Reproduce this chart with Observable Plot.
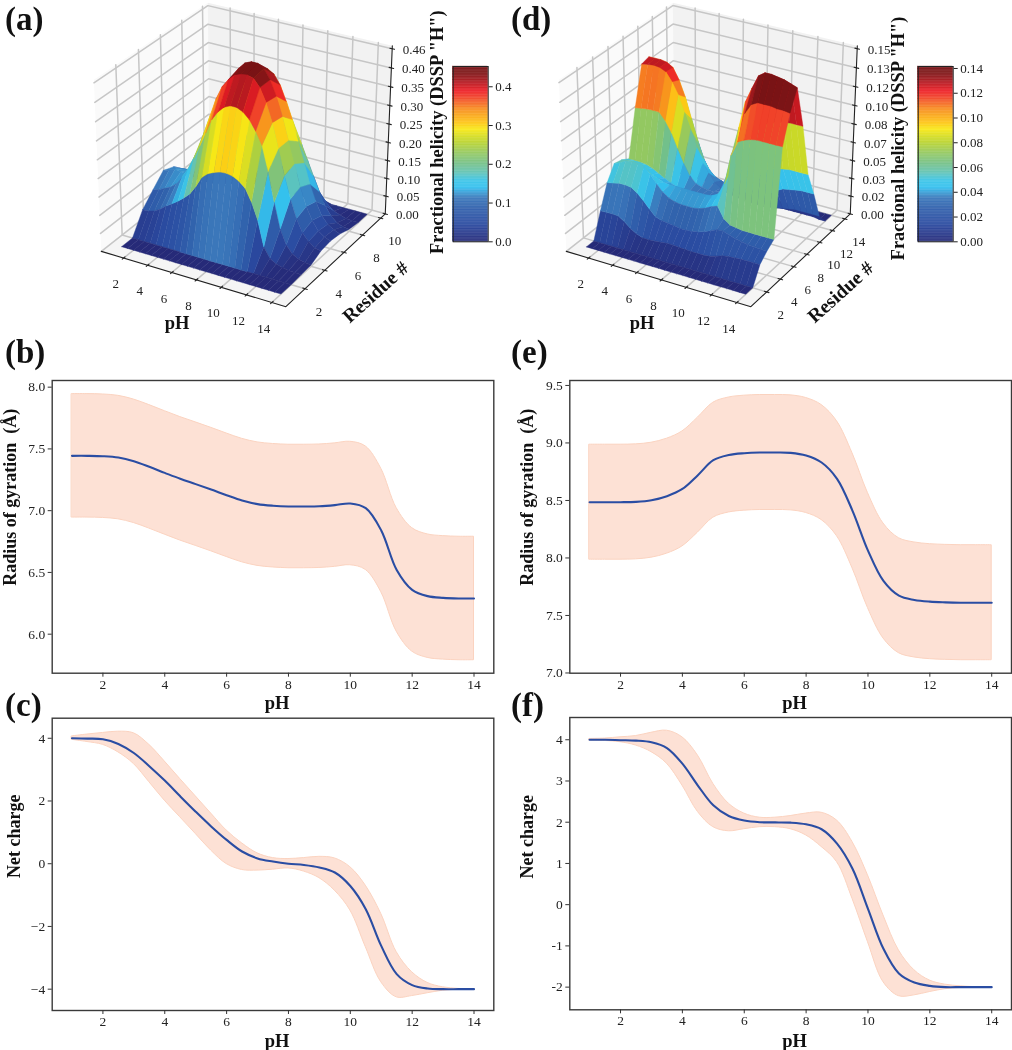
<!DOCTYPE html>
<html><head><meta charset="utf-8">
<script src="https://cdn.jsdelivr.net/npm/d3@7"></script>
<script src="https://cdn.jsdelivr.net/npm/@observablehq/plot@0.6"></script>
<style>
html,body{margin:0;padding:0;background:#fff;overflow:hidden}
#fig{position:relative;width:1012px;height:1050px;overflow:hidden;filter:blur(.35px)}
#fig svg{position:absolute;background:transparent;overflow:visible}
.tag{position:absolute;font:bold 33px "Liberation Serif";color:#111;line-height:1}
</style></head><body><div id="fig"></div>
<script>
const pH=[1,1.5,2,2.5,3,3.5,4,4.5,5,5.5,6,6.5,7,7.5,8,8.5,9,9.5,10,10.5,11,11.5,12,12.5,13,13.5,14];
const pHTicks=[2,4,6,8,10,12,14];

// panel (a): fractional helicity, one row per residue
const residuesA=[1,2,3,4,5,6,7,8,9,10];
const helixA=[
[0,0,0,0,0,0,0,0,0,0,0,0,0,0,0,0,0,0,0,0,0,0,0,0,0,0,0],
[0,0,0,0,0,0,0,0,0,0,0,0,0,0,0,0,0,0,0,0,0,0,0,0,0,0,0],
[.057,.058,.063,.073,.087,.098,.11,.124,.14,.165,.195,.21,.218,.224,.225,.222,.213,.198,.165,.12,.05,.022,.012,.007,.004,.003,.002],
[.09,.095,.104,.112,.127,.15,.177,.212,.25,.29,.33,.355,.372,.38,.38,.372,.356,.33,.296,.23,.15,.08,.04,.02,.01,.006,.004],
[.122,.128,.135,.132,.13,.165,.21,.26,.31,.36,.397,.42,.436,.442,.445,.44,.42,.385,.335,.27,.2,.14,.09,.055,.035,.022,.018],
[.11,.11,.112,.115,.12,.16,.23,.29,.345,.38,.4,.43,.448,.455,.455,.445,.42,.38,.33,.27,.21,.15,.1,.065,.04,.028,.022],
[.08,.08,.08,.085,.09,.12,.17,.23,.285,.33,.36,.39,.41,.42,.42,.41,.385,.345,.3,.245,.19,.135,.09,.055,.035,.024,.017],
[.03,.03,.03,.03,.035,.05,.08,.12,.16,.2,.24,.27,.285,.29,.295,.285,.27,.24,.21,.17,.13,.09,.055,.03,.015,.008,.006],
[.008,.008,.008,.008,.01,.015,.025,.04,.055,.07,.085,.095,.1,.105,.105,.1,.095,.085,.07,.055,.04,.028,.015,.008,.003,.001,.001],
[.001,.001,.001,.001,.001,.001,.001,.001,.001,.001,.001,.001,.001,.001,.001,.001,.001,.001,.001,.001,.001,.001,.001,.001,.001,.001,.001]
];
const zLabelsA=["0.00","0.05","0.10","0.15","0.20","0.25","0.30","0.35","0.40","0.46"];
const residueTicksA=[2,4,6,8,10];
const barTicksA=[0,.1,.2,.3,.4];

// panel (d)
const residuesD=[1,2,3,4,5,6,7,8,9,10,11,12,13,14];
const helixD=[
[0,0,0,0,0,0,0,0,0,0,0,0,0,0,0,0,0,0,0,0,0,0,0,0,0,0,0],
[0,0,0,0,0,0,0,0,0,0,0,0,0,0,0,0,0,0,0,0,0,0,0,0,0,0,0],
[.0227,.0228,.023,.0225,.019,.0142,.011,.0088,.0085,.009,.0095,.0102,.0102,.0098,.0095,.0092,.0092,.0092,.0098,.0115,.0135,.0145,.015,.0152,.0154,.0154,.0154],
[.0434,.0445,.0459,.0459,.0453,.0415,.0363,.03,.0243,.0225,.0216,.021,.02,.02,.0203,.0215,.0237,.026,.0285,.029,.027,.025,.024,.023,.0225,.022,.022],
[.0557,.058,.0613,.0617,.0616,.0606,.055,.048,.042,.038,.036,.035,.035,.035,.036,.038,.041,.043,.033,.029,.028,.027,.027,.027,.027,.027,.027],
[.054,.055,.055,.0535,.051,.048,.046,.044,.043,.043,.043,.043,.043,.043,.043,.044,.047,.058,.085,.098,.101,.103,.104,.104,.104,.104,.104],
[.05,.05,.05,.049,.047,.044,.041,.038,.036,.034,.034,.034,.034,.034,.034,.036,.044,.066,.092,.118,.127,.13,.13,.13,.129,.129,.128],
[.0915,.0925,.0933,.0935,.0933,.087,.0777,.065,.053,.043,.037,.035,.034,.034,.036,.05,.075,.098,.122,.135,.147,.151,.151,.15,.149,.147,.145],
[.126,.127,.1277,.127,.1245,.117,.107,.093,.079,.064,.0506,.043,.036,.032,.03,.034,.048,.066,.083,.094,.1,.103,.105,.106,.107,.107,.107],
[.128,.128,.128,.127,.1237,.114,.1,.082,.0626,.048,.039,.034,.032,.03,.028,.026,.027,.03,.045,.052,.055,.057,.058,.059,.059,.059,.059],
[.09,.09,.09,.088,.085,.078,.068,.055,.04,.03,.024,.02,.018,.017,.016,.016,.016,.017,.02,.026,.03,.033,.034,.035,.036,.036,.036],
[.05,.05,.05,.048,.046,.04,.033,.025,.018,.013,.01,.008,.007,.006,.006,.005,.005,.005,.006,.007,.008,.009,.01,.01,.01,.01,.01],
[.02,.02,.02,.018,.016,.013,.01,.007,.004,.003,.002,.002,.001,.001,.001,.001,.001,.001,.001,.001,.001,.001,.001,.001,.001,0,0],
[0,0,0,0,0,0,0,0,0,0,0,0,0,0,0,0,0,0,0,0,0,0,0,0,0,0,0]
];
const zLabelsD=["0.00","0.02","0.03","0.05","0.07","0.08","0.10","0.12","0.13","0.15"];
const residueTicksD=[2,4,6,8,10,12,14];
const barTicksD=[0,.02,.04,.06,.08,.1,.12,.14];

// colour map
const cmapStops=[0,.1,.2,.25,.31,.35,.40,.44,.5,.57,.64,.68,.76,.82,.86,.92,.96,1];
const cmapColors=["#262a78","#2a4aa0","#3163ad","#3b78bb","#33c0ee","#3cc4e6","#66c3b0","#72c08c","#90c765","#bcd42e","#f7e816","#fdc416","#f78a1f","#f0472a","#ed1c24","#a8191f","#7e1416","#771315"];

// panel (b) radius of gyration
const rgMeanB=[7.444,7.444,7.441,7.43,7.40,7.355,7.306,7.258,7.215,7.171,7.125,7.082,7.053,7.04,7.034,7.034,7.036,7.045,7.058,7.02,6.84,6.52,6.359,6.308,6.294,6.289,6.289];
const rgUpperB=[7.944,7.944,7.941,7.93,7.90,7.855,7.806,7.758,7.715,7.671,7.625,7.582,7.553,7.54,7.534,7.534,7.536,7.545,7.558,7.52,7.34,7.02,6.859,6.808,6.794,6.789,6.789];
const rgLowerB=[6.944,6.944,6.941,6.93,6.90,6.855,6.806,6.758,6.715,6.671,6.625,6.582,6.553,6.54,6.534,6.534,6.536,6.545,6.558,6.52,6.34,6.02,5.859,5.808,5.794,5.789,5.789];
// panel (c) net charge
const qMeanC=[4,3.99,3.97,3.82,3.53,3.11,2.65,2.15,1.66,1.19,.76,.39,.17,.07,0,-.04,-.12,-.28,-.71,-1.45,-2.62,-3.52,-3.87,-3.98,-4,-4,-4];
const qUpperC=[4.06,4.12,4.17,4.21,4.16,3.79,3.26,2.7,2.15,1.6,1.06,.65,.33,.18,.15,.18,.22,.17,-.11,-.7,-1.6,-2.82,-3.46,-3.8,-3.94,-3.99,-4.01];
const qLowerC=[3.95,3.88,3.79,3.55,3.18,2.6,2.01,1.48,.95,.42,-.01,-.2,-.22,-.19,-.15,-.25,-.46,-.86,-1.49,-2.66,-3.78,-4.26,-4.22,-4.13,-4.05,-4.02,-4];
// panel (e)
const rgMeanE=[8.485,8.485,8.485,8.488,8.502,8.537,8.6,8.72,8.85,8.895,8.911,8.917,8.917,8.914,8.891,8.83,8.688,8.41,8.064,7.8,7.672,7.635,7.62,7.614,7.611,7.611,7.611];
const rgUpperE=[8.985,8.985,8.985,8.988,9.002,9.037,9.1,9.22,9.35,9.395,9.411,9.417,9.417,9.414,9.391,9.33,9.188,8.91,8.564,8.3,8.172,8.135,8.12,8.114,8.111,8.111,8.111];
const rgLowerE=[7.985,7.985,7.985,7.988,8.002,8.037,8.1,8.22,8.35,8.395,8.411,8.417,8.417,8.414,8.391,8.33,8.188,7.91,7.564,7.3,7.172,7.135,7.12,7.114,7.111,7.111,7.111];
// panel (f)
const qMeanF=[4,4,3.99,3.98,3.94,3.8,3.42,2.89,2.41,2.15,2.04,2,1.995,1.99,1.95,1.83,1.48,.87,-.1,-1.07,-1.67,-1.89,-1.97,-2,-2,-2,-2];
const qUpperF=[4.02,4.03,4.06,4.09,4.17,4.22,4.06,3.62,2.93,2.45,2.21,2.11,2.11,2.15,2.21,2.23,2.04,1.52,.71,-.26,-1.11,-1.59,-1.84,-1.94,-1.98,-2,-2];
const qLowerF=[3.98,3.97,3.94,3.86,3.7,3.42,2.89,2.25,1.88,1.78,1.83,1.88,1.88,1.83,1.68,1.4,1.03,.14,-.91,-1.88,-2.22,-2.2,-2.12,-2.05,-2.02,-2,-2];

const SERIF="Liberation Serif";
const fig=document.getElementById("fig");
function place(node,left,top){node.style.left=left+"px";node.style.top=top+"px";fig.appendChild(node);}
function tag(t,left,top){const d=document.createElement("div");d.className="tag";d.textContent=t;d.style.left=left+"px";d.style.top=top+"px";fig.appendChild(d);}

// ---------- 2D panels ----------
function linePanel({left,top,ml,mr,mt,mb,w,h,yDomain,yTicks,yFmt,mean,upper,lower,yLabel,yLabelDx,yLabelDy,pHDy}){
  const rows=pH.map((p,i)=>({p,m:mean[i],u:upper[i],l:lower[i]}));
  const svg=Plot.plot({width:w,height:h,marginLeft:ml,marginRight:mr,marginTop:mt,marginBottom:mb,
    style:{fontFamily:SERIF,fontSize:"13.5px",color:"#222",background:"transparent",overflow:"visible"},
    x:{domain:[.36,14.64]},y:{domain:yDomain},
    marks:[
      Plot.areaY(rows,{x:"p",y1:"l",y2:"u",fill:"#fde1d5",stroke:"#fbd3c0",strokeWidth:1,curve:"catmull-rom"}),
      Plot.lineY(rows,{x:"p",y:"m",stroke:"#2a4da3",strokeWidth:2.1,curve:"catmull-rom"}),
      Plot.frame({stroke:"#3a3a3a",strokeWidth:1.4}),
      Plot.axisX({ticks:pHTicks,tickSize:4,tickPadding:2,label:null,stroke:"#333"}),
      Plot.axisY({ticks:yTicks,tickSize:4,tickPadding:3,label:null,tickFormat:yFmt,stroke:"#333"}),
      Plot.text(["pH"],{frameAnchor:"bottom",dx:4,dy:pHDy,lineAnchor:"middle",fontWeight:"bold",fontSize:18.5,fill:"#111",text:d=>d}),
      Plot.text([yLabel],{frameAnchor:"left",textAnchor:"middle",lineAnchor:"middle",dx:yLabelDx,dy:yLabelDy,rotate:-90,fontWeight:"bold",fontSize:18,fill:"#111",text:d=>d})
    ]});
  place(svg,left,top);
}
const f1=d3.format(".1f");
linePanel({left:0,top:370,ml:51.7,mr:16.7,mt:10,mb:42.3,w:510,h:345,yDomain:[5.684,8.054],yTicks:[6,6.5,7,7.5,8],yFmt:f1,mean:rgMeanB,upper:rgUpperB,lower:rgLowerB,yLabel:"Radius of gyration  (Å)",yLabelDx:-41.7,yLabelDy:-29.6,pHDy:30});
linePanel({left:510,top:370,ml:59.3,mr:1,mt:10,mb:42.3,w:502,h:345,yDomain:[6.998,9.543],yTicks:[7,7.5,8,8.5,9,9.5],yFmt:f1,mean:rgMeanE,upper:rgUpperE,lower:rgLowerE,yLabel:"Radius of gyration  (Å)",yLabelDx:-42.3,yLabelDy:-29.6,pHDy:30});
linePanel({left:0,top:705,ml:51.7,mr:16.7,mt:12.7,mb:40,w:510,h:345,yDomain:[-4.68,4.64],yTicks:[-4,-2,0,2,4],yFmt:d3.format("d"),mean:qMeanC,upper:qUpperC,lower:qLowerC,yLabel:"Net charge",yLabelDx:-37.7,yLabelDy:-28,pHDy:31});
linePanel({left:510,top:705,ml:59.3,mr:1,mt:12,mb:40.7,w:502,h:345,yDomain:[-2.55,4.54],yTicks:[-2,-1,0,1,2,3,4],yFmt:d=>String(d),mean:qMeanF,upper:qUpperF,lower:qLowerF,yLabel:"Net charge",yLabelDx:-42.3,yLabelDy:-27,pHDy:31});

// ---------- 3D panels ----------
const D2R=Math.PI/180,el=30*D2R,az=-60*D2R;
const W=[Math.cos(el)*Math.cos(az),Math.cos(el)*Math.sin(az),Math.sin(el)];
const U=[-Math.sin(az),Math.cos(az),0];
const V=[-Math.sin(el)*Math.cos(az),-Math.sin(el)*Math.sin(az),Math.cos(el)];
const dot=(a,b)=>a[0]*b[0]+a[1]*b[1]+a[2]*b[2];
function project(xn,yn,zn){
  const d=[xn-.5,yn-.5,zn-.5],depth=dot(W,d),f=10/(10-depth);
  return {X:dot(U,d)*f,Y:dot(V,d)*f,depth};
}
function path(id,pts,extra={}){return pts.map(p=>{const q=project(...p);return {id,X:q.X,Y:q.Y,...extra};});}

function surfacePanel({left,residues,table,xlim,ylim,zmax,vmax,zLabels,residueTicks,heightLabelDx,heightLabelDy}){
  const nx=p=>(p-xlim[0])/(xlim[1]-xlim[0]);
  const ny=r=>(r-ylim[0])/(ylim[1]-ylim[0]);
  const nz=z=>z/zmax;
  const panes=[
    {pts:[[0,0,0],[0,1,0],[0,1,1],[0,0,1],[0,0,0]],fill:"#fafafa"},
    {pts:[[0,1,0],[1,1,0],[1,1,1],[0,1,1],[0,1,0]],fill:"#f2f2f2"},
    {pts:[[0,0,0],[1,0,0],[1,1,0],[0,1,0],[0,0,0]],fill:"#f5f5f5"}
  ];
  const paneData=panes.flatMap((p,i)=>path("p"+i,p.pts,{c:p.fill}));
  const zTicks=zLabels.map((_,k)=>k/(zLabels.length-1)*(+zLabels[zLabels.length-1]));
  const grid=[];let g=0;
  for(const p of pHTicks){grid.push(...path("g"+(g++),[[nx(p),0,0],[nx(p),1,0],[nx(p),1,1]]));}
  for(const r of residueTicks){grid.push(...path("g"+(g++),[[1,ny(r),0],[0,ny(r),0],[0,ny(r),1]]));}
  for(const z of zTicks){grid.push(...path("g"+(g++),[[0,0,nz(z)],[0,1,nz(z)],[1,1,nz(z)]]));}
  const axes=[...path("ax",[[0,0,0],[1,0,0],[1,1,0],[1,1,1]])];
  let t=0;
  for(const p of pHTicks)axes.push(...path("t"+(t++),[[nx(p),-.012,0],[nx(p),.012,0]]));
  for(const r of residueTicks)axes.push(...path("t"+(t++),[[.988,ny(r),0],[1.012,ny(r),0]]));
  for(const z of zTicks)axes.push(...path("t"+(t++),[[.988,1,nz(z)],[1.012,1,nz(z)]]));
  // surface faces, farthest first, each filled from its mean height
  const faces=[];
  for(let r=0;r<residues.length-1;r++)for(let i=0;i<pH.length-1;i++){
    const c=[[i,r],[i+1,r],[i+1,r+1],[i,r+1]].map(([a,b])=>[nx(pH[a]),ny(residues[b]),nz(table[b][a])]);
    const v=d3.mean([[i,r],[i+1,r],[i+1,r+1],[i,r+1]],([a,b])=>table[b][a]);
    const depth=d3.mean(c,q=>project(...q).depth);
    faces.push({c,v,depth});
  }
  faces.sort((a,b)=>a.depth-b.depth);
  const polys=faces.flatMap((f,k)=>path("f"+k,[...f.c,f.c[0]],{v:f.v}));
  const xT=pHTicks.map(p=>({...project(nx(p),0,0),s:String(p)}));
  const yT=residueTicks.map(r=>({...project(1,ny(r),0),s:String(r)}));
  const zT=zTicks.map((z,k)=>({...project(1,1,nz(z)),s:zLabels[k]}));
  const lab=(s,px,py,o={})=>Plot.text([s],{frameAnchor:"top-left",textAnchor:"middle",lineAnchor:"middle",dx:px,dy:py,text:d=>d,fontWeight:"bold",fill:"#111",fontSize:18.5,...o});
  const svg=Plot.plot({width:510,height:345,margin:0,
    style:{fontFamily:SERIF,fontSize:"13px",color:"#222",background:"transparent",overflow:"visible"},
    x:{domain:[-1,1],range:[32,458],axis:null},
    y:{domain:[-1,1],range:[345,-47],axis:null},
    color:{type:"linear",domain:cmapStops.map(s=>s*vmax),range:cmapColors,interpolate:"rgb",clamp:true},
    marks:[
      Plot.line(paneData,{x:"X",y:"Y",z:"id",fill:{value:"c",scale:null},stroke:"none"}),
      Plot.line(grid,{x:"X",y:"Y",z:"id",stroke:"#c6c6c6",strokeWidth:1.5}),
      Plot.line(axes,{x:"X",y:"Y",z:"id",stroke:"#222",strokeWidth:1.1}),
      Plot.line(polys,{x:"X",y:"Y",z:"id",fill:"v",stroke:"v",strokeWidth:.4}),
      Plot.text(xT,{x:"X",y:"Y",text:"s",dx:-8,dy:26,fill:"#222",fontSize:13}),
      Plot.text(yT,{x:"X",y:"Y",text:"s",dx:14,dy:23,fill:"#222",fontSize:13}),
      Plot.text(zT,{x:"X",y:"Y",text:"s",dx:22,dy:1,fill:"#222",fontSize:13}),
      lab("pH",176.5,322.7),
      lab("Residue #",375,291.7,{rotate:-42,fontSize:19.5}),
      lab('Fractional helicity (DSSP "H")',heightLabelDx,heightLabelDy,{rotate:-90,fontSize:18.4})
    ]});
  place(svg,left,0);
}
surfacePanel({left:0,residues:residuesA,table:helixA,xlim:[.12,15.09],ylim:[.11,10.52],zmax:.468,vmax:.4523,zLabels:zLabelsA,residueTicks:residueTicksA,heightLabelDx:436.7,heightLabelDy:131.7});
surfacePanel({left:465.3,residues:residuesD,table:helixD,xlim:[.12,15.09],ylim:[-.26,14.9],zmax:.1525,vmax:.1416,zLabels:zLabelsD,residueTicks:residueTicksD,heightLabelDx:432.7,heightLabelDy:138});

function colorBar({left,vmax,ticks,fmt}){
  const bands=d3.range(0,240).map(i=>({a:i/240*vmax,b:(i+1)/240*vmax,v:(i+.5)/240*vmax}));
  const svg=Plot.plot({width:100,height:190,marginLeft:7.7,marginRight:57.3,marginTop:6,marginBottom:8.7,
    style:{fontFamily:SERIF,fontSize:"13px",color:"#222",background:"transparent",overflow:"visible"},
    x:{domain:[0,1],axis:null},y:{domain:[0,vmax]},
    color:{type:"linear",domain:cmapStops.map(s=>s*vmax),range:cmapColors,interpolate:"rgb"},
    marks:[
      Plot.rect(bands,{x1:0,x2:1,y1:"a",y2:"b",fill:"v",stroke:"v",strokeWidth:.3}),
      Plot.frame({stroke:"#222",strokeWidth:1}),
      Plot.axisY({anchor:"right",ticks,tickSize:4,tickPadding:3,label:null,tickFormat:fmt,stroke:"#222"})
    ]});
  place(svg,left,60);
}
colorBar({left:445,vmax:.4523,ticks:barTicksA,fmt:d3.format(".1f")});
colorBar({left:910,vmax:.1416,ticks:barTicksD,fmt:d3.format(".2f")});

tag("(a)",5,3);tag("(d)",511,3);tag("(b)",5,336);tag("(e)",511,336);tag("(c)",5,689);tag("(f)",511,689);
</script></body></html>
